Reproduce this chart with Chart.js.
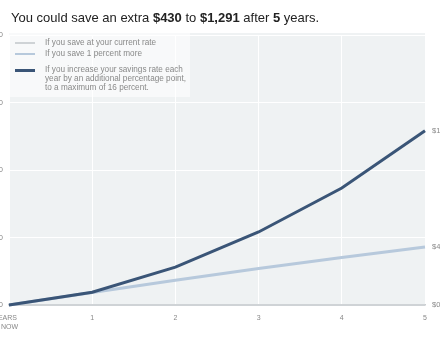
<!DOCTYPE html>
<html>
<head>
<meta charset="utf-8">
<script src="https://cdn.jsdelivr.net/npm/chart.js@4"></script>
<style>
  html, body { margin: 0; padding: 0; background: #fff; overflow: hidden; }
  body { width: 440px; height: 351px; position: relative; font-family: "Liberation Sans", Arial, Helvetica, sans-serif; }
  #title { position: absolute; left: 11px; top: 10px; font-size: 13px; color: #222; white-space: nowrap; }
  #title b { font-weight: bold; }
  #wrap { position: absolute; left: -41px; top: 0; width: 516px; height: 351px; }
  #legend { position: absolute; left: 9px; top: 33px; width: 181px; height: 64px; background: rgba(255,255,255,0.55); }
  .item { position: absolute; left: 0; font-size: 8.2px; color: #888; line-height: 8.8px; }
  .item .swatch { position: absolute; left: 6px; top: 3px; width: 20px; height: 0; }
  .item .txt { position: absolute; left: 36px; top: 0; width: 145px; }
</style>
</head>
<body>
<div id="wrap"><canvas id="chart"></canvas></div>
<div id="legend"></div>
<div id="title">You could save an extra <b>$430</b> to <b>$1,291</b> after <b>5</b> years.</div>
<script>
const xLabels = [["YEARS", "FROM NOW"], "1", "2", "3", "4", "5"];
const currentRate = [0, 0, 0, 0, 0, 0];
const onePercentMore = [0, 92, 183, 270, 352, 430];
const increaseEachYear = [0, 95, 281, 541, 867, 1291];
const leftTicks = [0, 500, 1000, 1500, 2000];
const rightTicks = [0, 430, 1291];
const seriesNames = [
  "If you save at your current rate",
  "If you save 1 percent more",
  "If you increase your savings rate each year by an additional percentage point, to a maximum of 16 percent."
];

const money = v => "$" + v.toLocaleString("en-US");

const plotBg = {
  id: "plotBg",
  beforeDraw(chart) {
    const { ctx, chartArea: a } = chart;
    ctx.save();
    ctx.fillStyle = "#eff2f3";
    ctx.fillRect(a.left, a.top - 2, a.right - a.left, a.bottom - a.top + 2);
    ctx.restore();
  }
};

const chart = new Chart(document.getElementById("chart"), {
  type: "line",
  data: {
    labels: xLabels,
    datasets: [
      { label: seriesNames[2], data: increaseEachYear, borderColor: "#3a5577", borderWidth: 3, order: 1 },
      { label: seriesNames[1], data: onePercentMore, borderColor: "#b7c9dc", borderWidth: 3, order: 2 },
      { label: seriesNames[0], data: currentRate, borderColor: "#cfd3d6", borderWidth: 2, order: 3 }
    ]
  },
  options: {
    responsive: true,
    maintainAspectRatio: false,
    animation: false,
    layout: { padding: { top: 35, left: 0, right: 0, bottom: 0 } },
    elements: { point: { radius: 0 }, line: { tension: 0 } },
    datasets: { line: { clip: 6 } },
    plugins: { legend: { display: false }, tooltip: { enabled: false } },
    scales: {
      x: {
        offset: false,
        grid: { color: "#ffffff", lineWidth: 1, drawTicks: false },
        border: { color: "#c9cccf", width: 1.5 },
        ticks: {
          color: "#888", font: { size: 7, family: "Liberation Sans" }, padding: 9, maxRotation: 0,
          // first label sits left of its tick, as in the original
          callback(v, i) {
            const l = this.getLabelForValue(v);
            return i === 0 ? [l[0] + "    ", l[1] + "           "] : l;
          }
        },
        afterFit(s) { s.height = 46; }
      },
      y: {
        position: "left",
        min: 0, max: 2000,
        afterBuildTicks(s) { s.ticks = leftTicks.map(v => ({ value: v })); },
        grid: { color: "#ffffff", lineWidth: 1, drawTicks: false },
        border: { display: false },
        ticks: { color: "#888", font: { size: 7.5, family: "Liberation Sans" }, padding: 6, callback: v => money(v) },
        afterFit(s) { s.width = 50; }
      },
      y2: {
        position: "right",
        min: 0, max: 2000,
        afterBuildTicks(s) { s.ticks = rightTicks.map(v => ({ value: v })); },
        grid: { display: false, drawTicks: false },
        border: { display: false },
        ticks: { color: "#888", font: { size: 7.5, family: "Liberation Sans" }, padding: 7, callback: v => money(v) },
        afterFit(s) { s.width = 50; }
      }
    }
  },
  plugins: [plotBg]
});

// legend built from the dataset names
const legend = document.getElementById("legend");
const swatches = [["#cfd3d6", 2, 6], ["#b7c9dc", 2, 17], ["#3a5577", 3, 33]];
seriesNames.forEach((name, i) => {
  const [color, w, top] = swatches[i];
  const div = document.createElement("div");
  div.className = "item";
  div.style.top = top + "px";
  div.innerHTML = '<div class="swatch" style="border-top:' + w + 'px solid ' + color + '"></div><div class="txt"></div>';
  div.querySelector(".txt").textContent = name;
  legend.appendChild(div);
});
</script>
</body>
</html>
